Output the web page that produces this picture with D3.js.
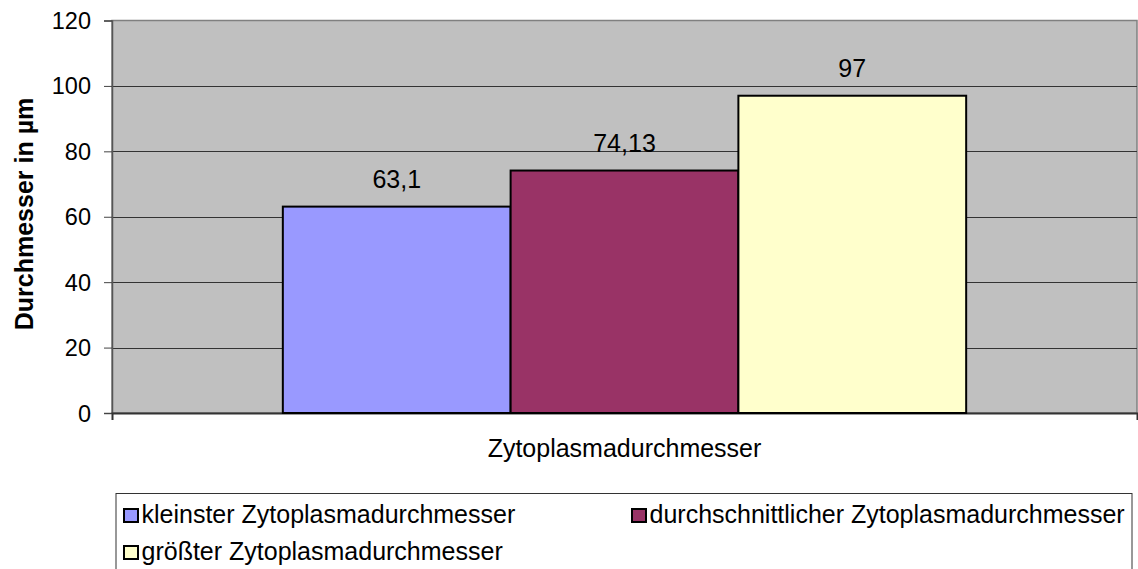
<!DOCTYPE html>
<html><head><meta charset="utf-8">
<script src="https://cdn.jsdelivr.net/npm/d3@7"></script>
<style>body{margin:0;background:#fff}svg{display:block;font-family:"Liberation Sans",Arial,sans-serif}</style>
</head><body><svg id="c" width="1138" height="569"></svg>
<script>
const categories = ["Zytoplasmadurchmesser"];
const seriesNames = ["kleinster Zytoplasmadurchmesser","durchschnittlicher Zytoplasmadurchmesser","größter Zytoplasmadurchmesser"];
const seriesValues = [63.1, 74.13, 97];
const valueLabels = ["63,1","74,13","97"];
const seriesColors = ["#9999FF","#993366","#FFFFCC"];
const yTicks = [0,20,40,60,80,100,120];
const yTitle = "Durchmesser in µm";

const FS = 25;
const svg = d3.select("#c");
const L=112, R=1137, T=20.5, B=413;
const y = d3.scaleLinear().domain([0,120]).range([B,T]);
const x0 = d3.scaleBand().domain(categories).range([L,R]);
const bw = x0.bandwidth()/4.5;
const x1 = d3.scaleBand().domain(seriesNames).range([x0(categories[0])+bw*0.75, x0(categories[0])+bw*3.75]);

svg.append("rect").attr("x",L).attr("y",T).attr("width",R-L).attr("height",B-T).attr("fill","#C0C0C0").attr("stroke","#808080").attr("stroke-width",1.5);

svg.append("g").selectAll("line").data(yTicks.filter(d=>d>0&&d<120)).join("line")
  .attr("x1",L).attr("x2",R).attr("y1",d=>Math.round(y(d))+0.5).attr("y2",d=>Math.round(y(d))+0.5)
  .attr("stroke","#333").attr("stroke-width",1);

const yAxis = svg.append("g").attr("transform",`translate(${L},0)`)
  .call(d3.axisLeft(y).tickValues(yTicks).tickSize(8).tickPadding(13));
yAxis.select(".domain").attr("stroke","#555").attr("stroke-width",1.5);
yAxis.selectAll(".tick line").attr("stroke","#444");
yAxis.selectAll("text").attr("font-size",23.5).attr("fill","#000").attr("font-family","Liberation Sans, Arial, sans-serif").attr("dy","0.34em");

const xAxis = svg.append("g").attr("transform",`translate(0,${B})`)
  .call(d3.axisBottom(x0).tickValues([]).tickSizeOuter(7));
xAxis.select(".domain").attr("stroke","#333").attr("stroke-width",2);

svg.append("text").attr("x",x0(categories[0])+x0.bandwidth()/2).attr("y",457).attr("text-anchor","middle")
  .attr("font-size",FS).text(categories[0]);

svg.append("text").attr("transform",`translate(33,214) rotate(-90)`).attr("text-anchor","middle")
  .attr("font-size",FS).attr("font-weight","bold").text(yTitle);

svg.append("g").selectAll("rect").data(seriesValues).join("rect")
  .attr("x",(d,i)=>x1(seriesNames[i])).attr("width",x1.bandwidth())
  .attr("y",d=>y(d)).attr("height",d=>B-y(d))
  .attr("fill",(d,i)=>seriesColors[i]).attr("stroke","#000").attr("stroke-width",2);

svg.append("g").selectAll("text").data(seriesValues).join("text")
  .attr("x",(d,i)=>x1(seriesNames[i])+x1.bandwidth()/2).attr("y",d=>y(d)-18.5)
  .attr("text-anchor","middle").attr("font-size",FS).text((d,i)=>valueLabels[i]);

// legend
svg.append("rect").attr("x",116).attr("y",493.5).attr("width",1016).attr("height",100).attr("fill","#fff").attr("stroke","#333").attr("stroke-width",1);
const legPos = [[124,509],[632,509],[124,546]];
const lg = svg.append("g").selectAll("g").data(seriesNames).join("g")
  .attr("transform",(d,i)=>`translate(${legPos[i][0]},${legPos[i][1]})`);
lg.append("rect").attr("width",14).attr("height",13).attr("fill",(d,i)=>seriesColors[i]).attr("stroke","#000").attr("stroke-width",2);
lg.append("text").attr("x",17.5).attr("y",14).attr("font-size",FS).text(d=>d);
</script></body></html>
